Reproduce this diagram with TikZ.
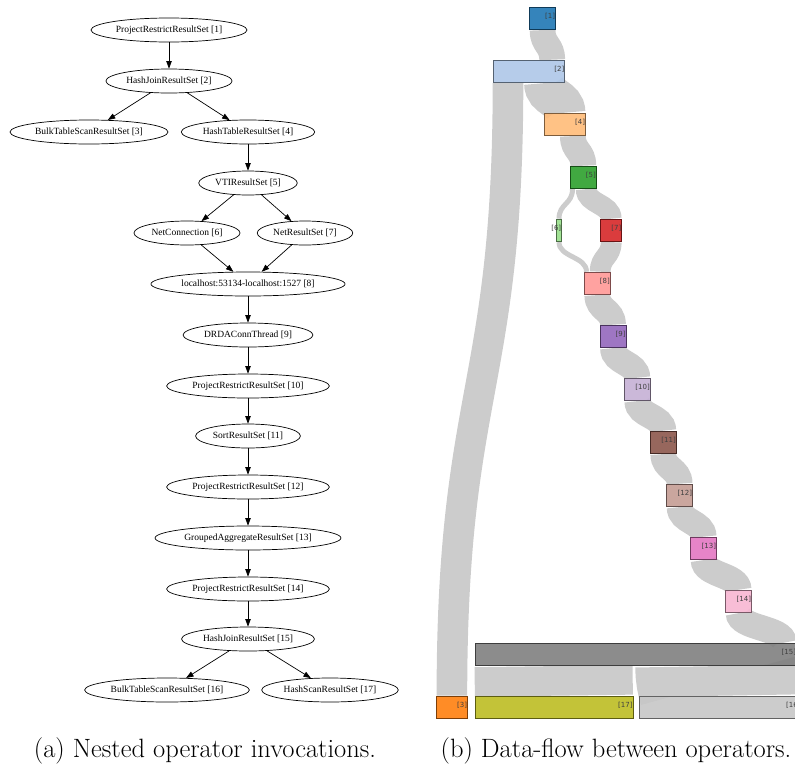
\documentclass[tikz,border=0pt]{standalone}
\usepackage{fontspec}
\usepackage{tikz}
\usetikzlibrary{shapes.geometric,arrows.meta,backgrounds}
\newfontfamily\dotfont{Liberation Serif}
\newfontfamily\sankeyfont{DejaVu Sans}

\definecolor{c1}{HTML}{1F77B4}
\definecolor{c2}{HTML}{AEC7E8}
\definecolor{c3}{HTML}{FF7F0E}
\definecolor{c4}{HTML}{FFBB78}
\definecolor{c5}{HTML}{2CA02C}
\definecolor{c6}{HTML}{98DF8A}
\definecolor{c7}{HTML}{D62728}
\definecolor{c8}{HTML}{FF9896}
\definecolor{c9}{HTML}{9467BD}
\definecolor{c10}{HTML}{C5B0D5}
\definecolor{c11}{HTML}{8C564B}
\definecolor{c12}{HTML}{C49C94}
\definecolor{c13}{HTML}{E377C2}
\definecolor{c14}{HTML}{F7B6D2}
\definecolor{c15}{HTML}{7F7F7F}
\definecolor{c16}{HTML}{C7C7C7}
\definecolor{c17}{HTML}{BCBD22}

\begin{document}
\begin{tikzpicture}[x=1pt,y=-1pt,
    op/.style={ellipse,draw,line width=0.7pt,minimum height=24pt,inner xsep=2pt,inner ysep=0pt,
      font=\dotfont\fontsize{9.5}{11}\selectfont},
    call/.style={-{Triangle[length=7.5pt,width=5.4pt]},line width=0.7pt},
    bar/.style={anchor=north west,minimum height=22.6pt,inner sep=0pt,line width=0.8pt,
      fill=#1,fill opacity=0.9,draw=#1!49!black},
    tag/.style={anchor=east,inner sep=0.6pt,text=black!75,font=\sankeyfont\fontsize{7}{8}\selectfont},
    flow/.style={draw=black!20,line cap=butt},
    caption/.style={anchor=base,font=\fontsize{26.5}{30}\selectfont}]
    \useasboundingbox (0,0) rectangle (795,769);

    % (a) operator tree
    \node[op] (o1) at (169,30) {ProjectRestrictResultSet [1]};
    \node[op] (o2) at (169,81) {HashJoinResultSet [2]};
    \node[op] (o3) at (89,132) {BulkTableScanResultSet [3]};
    \node[op] (o4) at (248,132) {HashTableResultSet [4]};
    \node[op] (o5) at (248,183) {VTIResultSet [5]};
    \node[op] (o6) at (187,233) {NetConnection [6]};
    \node[op] (o7) at (305,233) {NetResultSet [7]};
    \node[op] (o8) at (248,284) {localhost:53134-localhost:1527 [8]};
    \node[op] (o9) at (248,335) {DRDAConnThread [9]};
    \node[op] (o10) at (248,386) {ProjectRestrictResultSet [10]};
    \node[op] (o11) at (248,436) {SortResultSet [11]};
    \node[op] (o12) at (248,487) {ProjectRestrictResultSet [12]};
    \node[op] (o13) at (248,538) {GroupedAggregateResultSet [13]};
    \node[op] (o14) at (248,589) {ProjectRestrictResultSet [14]};
    \node[op] (o15) at (248,639) {HashJoinResultSet [15]};
    \node[op] (o16) at (167,690) {BulkTableScanResultSet [16]};
    \node[op] (o17) at (330,690) {HashScanResultSet [17]};

    \draw[call] (o1) -- (o2);
    \draw[call] (o2) -- (o3);
    \draw[call] (o2) -- (o4);
    \draw[call] (o4) -- (o5);
    \draw[call] (o5) -- (o6);
    \draw[call] (o5) -- (o7);
    \draw[call] (o6) -- (o8);
    \draw[call] (o7) -- (o8);
    \foreach \a/\b in {8/9,9/10,10/11,11/12,12/13,13/14,14/15,15/16,15/17}
    \draw[call] (o\a) -- (o\b);

    % (b) data-flow
    \node[bar=c1,minimum width=25.8pt] (s1) at (529.3,6.7) {};
    \node[bar=c2,minimum width=71.6pt] (s2) at (492.7,59.7) {};
    \node[bar=c4,minimum width=41pt] (s4) at (544,112.7) {};
    \node[bar=c5,minimum width=25.8pt] (s5) at (570,165.7) {};
    \node[bar=c6,minimum width=5.2pt] (s6) at (556,218.7) {};
    \node[bar=c7,minimum width=21pt] (s7) at (600.3,218.7) {};
    \node[bar=c8,minimum width=25.8pt] (s8) at (584,271.7) {};
    \node[bar=c9,minimum width=25.8pt] (s9) at (599.7,324.7) {};
    \node[bar=c10,minimum width=25.8pt] (s10) at (624,377.7) {};
    \node[bar=c11,minimum width=25.8pt] (s11) at (650,430.7) {};
    \node[bar=c12,minimum width=25.8pt] (s12) at (666.3,483.7) {};
    \node[bar=c13,minimum width=25.8pt] (s13) at (690.3,536.7) {};
    \node[bar=c14,minimum width=25.8pt] (s14) at (725.3,589.7) {};
    \node[bar=c15,minimum width=321.5pt] (s15) at (474.5,642.7) {};
    \node[bar=c3,minimum width=31pt] (s3) at (436,695.7) {};
    \node[bar=c17,minimum width=158pt] (s17) at (474.5,695.7) {};
    \node[bar=c16,minimum width=161.5pt] (s16) at (639,695.7) {};

    \foreach \n in {1,...,17}
    \node[tag] (t\n) at ([yshift=2pt]s\n.east) {[\n]};

    \begin{scope}[on background layer]
    \clip (0,0) rectangle (795,769);
    \draw[flow,line width=25.8pt] (s1.south) .. controls +(0,15.3) and +(0,-15.3) .. ([xshift=-12.9pt]s2.north east);
    \draw[flow,line width=30.6pt] ([xshift=15.3pt]s2.south west) .. controls +(0,306.7) and +(0,-306.7) .. (s3.north);
    \draw[flow,line width=41pt] ([xshift=-20.5pt]s2.south east) .. controls +(0,15.3) and +(0,-15.3) .. (s4.north);
    \draw[flow,line width=25.8pt] ([xshift=-12.9pt]s4.south east) .. controls +(0,15.3) and +(0,-15.3) .. (s5.north);
    \draw[flow,line width=5pt] ([xshift=2.5pt]s5.south west) .. controls +(0,15.3) and +(0,-15.3) .. (s6.north);
    \draw[flow,line width=20.8pt] ([xshift=-10.4pt]s5.south east) .. controls +(0,15.3) and +(0,-15.3) .. (s7.north);
    \draw[flow,line width=5pt] (s6.south) .. controls +(0,15.3) and +(0,-15.3) .. ([xshift=2.5pt]s8.north west);
    \draw[flow,line width=20.8pt] (s7.south) .. controls +(0,15.3) and +(0,-15.3) .. ([xshift=-10.4pt]s8.north east);
    \foreach \a/\b in {8/9,9/10,10/11,11/12,12/13,13/14}
    \draw[flow,line width=25.8pt] (s\a.south) .. controls +(0,15.3) and +(0,-15.3) .. (s\b.north);
    \draw[flow,line width=25.8pt] (s14.south) .. controls +(0,15.3) and +(0,-15.3) .. ([xshift=-12.9pt]s15.north east);
    \draw[flow,line width=158pt] ([xshift=79pt]s15.south west) .. controls +(0,15.3) and +(0,-15.3) .. (s17.north);
    \draw[flow,line width=161.5pt] ([xshift=-80.75pt]s15.south east) .. controls +(0,15.3) and +(0,-15.3) .. (s16.north);
    \end{scope}

    \node[caption] (capa) at (205,757) {(a) Nested operator invocations.};
    \node[caption] (capb) at (616,757) {(b) Data-flow between operators.};
\end{tikzpicture}
\end{document}
